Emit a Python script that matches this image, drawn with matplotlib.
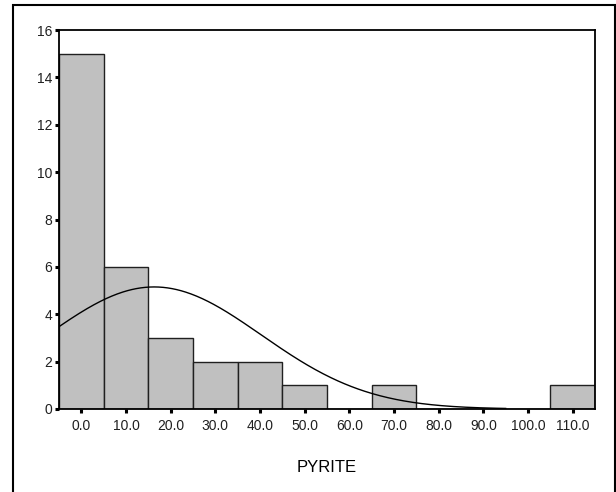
import numpy as np
import matplotlib
matplotlib.use("Agg")
import matplotlib.pyplot as plt
from matplotlib.patches import Rectangle

plt.rcParams["font.family"] = ["Liberation Sans", "DejaVu Sans"]

# histogram bins (centres) and counts
bin_centers = [0, 10, 20, 30, 40, 50, 60, 70, 80, 90, 100, 110]
counts = [15, 6, 3, 2, 2, 1, 0, 1, 0, 0, 0, 1]
bin_width = 10
tick_labels = ["0.0", "10.0", "20.0", "30.0", "40.0", "50.0",
               "60.0", "70.0", "80.0", "90.0", "100.0", "110.0"]

# fitted normal curve parameters
fit_mean = 16.3
fit_sd = 24.0
n_obs = sum(counts)

fig = plt.figure(figsize=(6.16, 4.92), dpi=100)
ax = fig.add_axes([59 / 616, 83 / 492, 536 / 616, 379 / 492])

ax.bar(bin_centers, counts, width=bin_width, color="#c0c0c0",
       edgecolor="#202020", linewidth=1.0, zorder=2)

xc = np.linspace(-5, 95, 400)
yc = n_obs * bin_width / (fit_sd * np.sqrt(2 * np.pi)) * np.exp(-(xc - fit_mean) ** 2 / (2 * fit_sd ** 2))
ax.plot(xc, yc, color="black", lw=1.0, zorder=3)

ax.set_xlim(-5, 115)
ax.set_ylim(0, 16)
ax.set_xticks(bin_centers)
ax.set_xticklabels(tick_labels)
ax.set_yticks(range(0, 17, 2))
ax.tick_params(axis="both", direction="out", length=3, width=2.2, labelsize=10,
               color="black", labelcolor="#202020")
ax.tick_params(axis="x", pad=4)
ax.tick_params(axis="y", pad=2)
for s in ax.spines.values():
    s.set_linewidth(1.3)
    s.set_color("black")

ax.set_xlabel("PYRITE", fontsize=12, labelpad=20)

fig.patches.append(Rectangle((13 / 616, -0.1), 602 / 616, 1.1 - 5 / 492,
                             transform=fig.transFigure, fill=False,
                             edgecolor="black", linewidth=1.5))

fig.savefig("out.png", dpi=100)
